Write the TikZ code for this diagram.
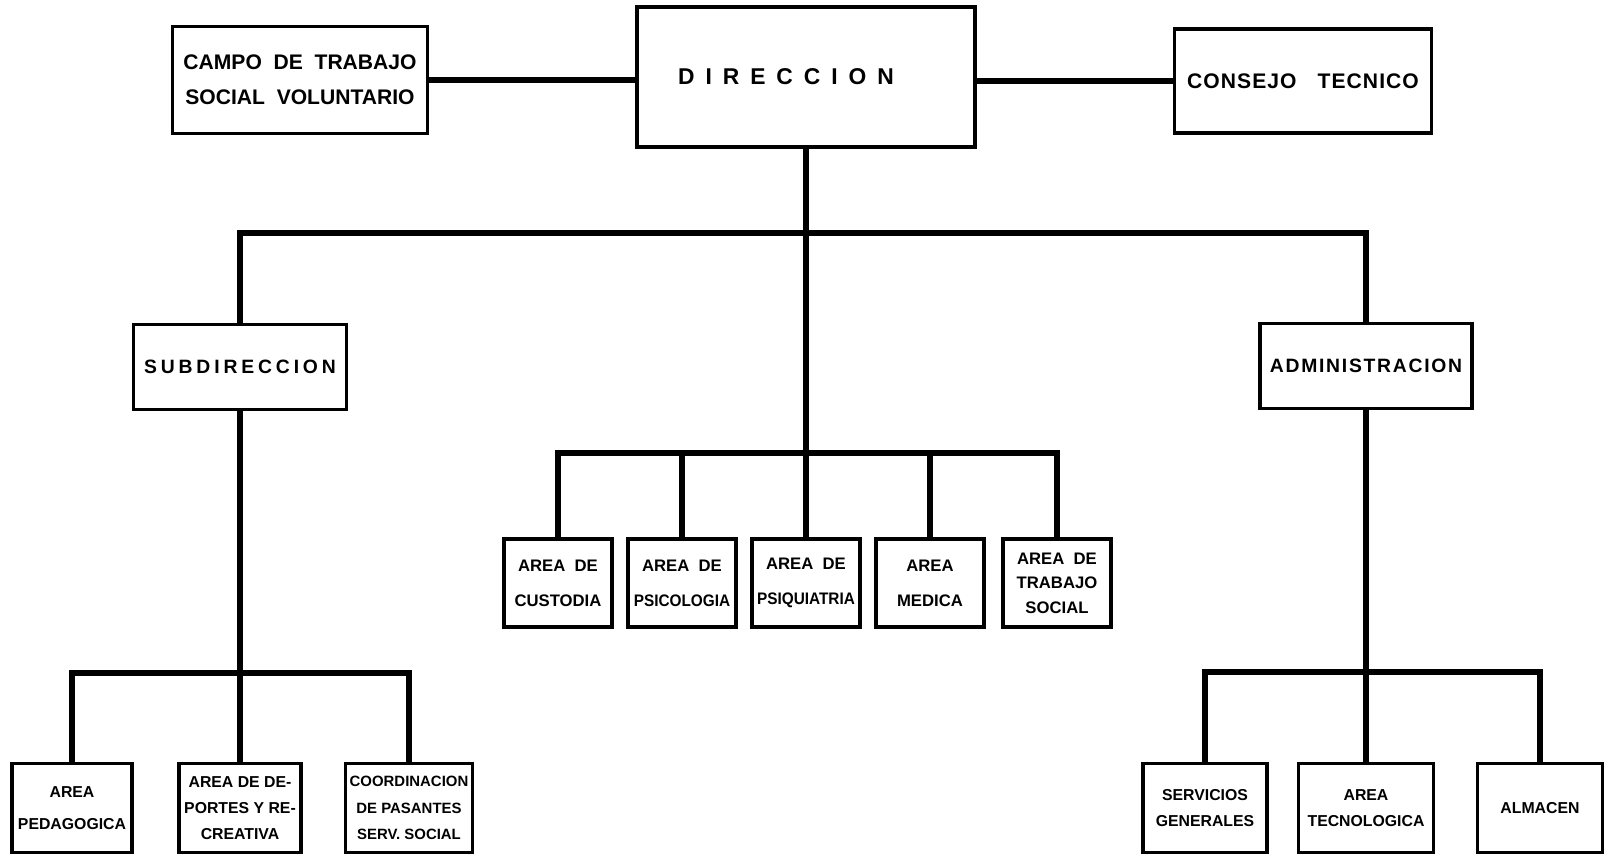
\documentclass[tikz,border=0pt]{standalone}
\usepackage{fontspec}
\setmainfont{Liberation Sans}
\usetikzlibrary{positioning}

\begin{document}
\begin{tikzpicture}[
    x=0.02cm, y=-0.02cm,
    unit/.style={rectangle, draw, line width=1.8pt, align=center, inner sep=1pt, font=\bfseries\fontsize{9.5}{20}\selectfont},
    head/.style={unit, font=\bfseries\fontsize{12}{20}\selectfont},
    chief/.style={unit, minimum height=1.7cm},
    area/.style={unit, minimum width=2.16cm, minimum height=1.76cm},
    leaf/.style={unit, minimum height=1.78cm, font=\bfseries\fontsize{9}{15}\selectfont},
    link/.style={line width=3.5pt},
]
\useasboundingbox (0,0) rectangle (1612,853);

% Top level
\node[unit, line width=2.2pt, minimum width=6.76cm, minimum height=2.8cm,
      font=\bfseries\fontsize{13}{15}\selectfont\addfontfeature{LetterSpace=48}] (direccion) at (806,77) {DIRECCION\hspace*{0.8cm}};
\node[head, minimum width=5.1cm, minimum height=2.14cm] (campo) at (300,80) {CAMPO\ \ DE\ \ TRABAJO\\SOCIAL\ \ VOLUNTARIO};
\node[head, minimum width=5.14cm, minimum height=2.08cm, font=\bfseries\fontsize{12}{20}\selectfont\addfontfeature{LetterSpace=5}] (consejo) at (1303,81) {CONSEJO\quad TECNICO};

% Second level
\node[chief, minimum width=4.26cm, font=\bfseries\fontsize{11}{20}\selectfont\addfontfeature{LetterSpace=20}] (subdireccion) at (240,367) {SUBDIRECCION};
\node[chief, minimum width=4.24cm, font=\bfseries\fontsize{11}{20}\selectfont\addfontfeature{LetterSpace=9}] (administracion) at (1366,366) {ADMINISTRACION};

% Areas under direccion
\node[area] (custodia) at (558,583) {AREA\ \ DE\\CUSTODIA};
\node[area] (psicologia) at (682,583) {AREA\ \ DE\\\scalebox{0.92}[1]{PSICOLOGIA}};
\node[area] (psiquiatria) at (806,583) {AREA\ \ DE\\\scalebox{0.92}[1]{PSIQUIATRIA}};
\node[area] (medica) at (930,583) {AREA\\MEDICA};
\node[area, font=\bfseries\fontsize{9.5}{14}\selectfont] (trabajo) at (1057,583) {AREA\ \ DE\\TRABAJO\\SOCIAL};

% Areas under subdireccion
\node[leaf, minimum width=2.4cm, font=\bfseries\fontsize{9}{18}\selectfont] (pedagogica) at (72,808) {AREA\\PEDAGOGICA};
\node[leaf, minimum width=2.44cm] (deportes) at (240,808) {AREA DE DE-\\PORTES Y RE-\\CREATIVA};
\node[leaf, minimum width=2.54cm, font=\bfseries\fontsize{8.5}{15}\selectfont] (coordinacion) at (409,808) {COORDINACION\\DE PASANTES\\SERV. SOCIAL};

% Areas under administracion
\node[leaf, minimum width=2.48cm] (servicios) at (1205,808) {SERVICIOS\\GENERALES};
\node[leaf, minimum width=2.7cm] (tecnologica) at (1366,808) {AREA\\TECNOLOGICA};
\node[leaf, minimum width=2.5cm] (almacen) at (1540,808) {ALMACEN};

% Connectors
\coordinate (mainbar) at (806,233);
\coordinate (midbar) at (806,453);
\coordinate (subbar) at (240,673);
\coordinate (adminbar) at (1366,672);

\draw[link] (campo) -- (campo -| direccion.west);
\draw[link] (consejo) -- (consejo -| direccion.east);
\draw[link] (direccion) -- (psiquiatria);
\draw[link] (subdireccion.north) |- (mainbar) -| (administracion.north);

\draw[link] (custodia.north) |- (midbar) -| (trabajo.north);
\foreach \n in {psicologia, medica}
    \draw[link] (\n.north) -- (\n.north |- midbar);

\draw[link] (subdireccion) -- (deportes);
\draw[link] (pedagogica.north) |- (subbar) -| (coordinacion.north);

\draw[link] (administracion) -- (tecnologica);
\draw[link] (servicios.north) |- (adminbar) -| (almacen.north);

\end{tikzpicture}
\end{document}
